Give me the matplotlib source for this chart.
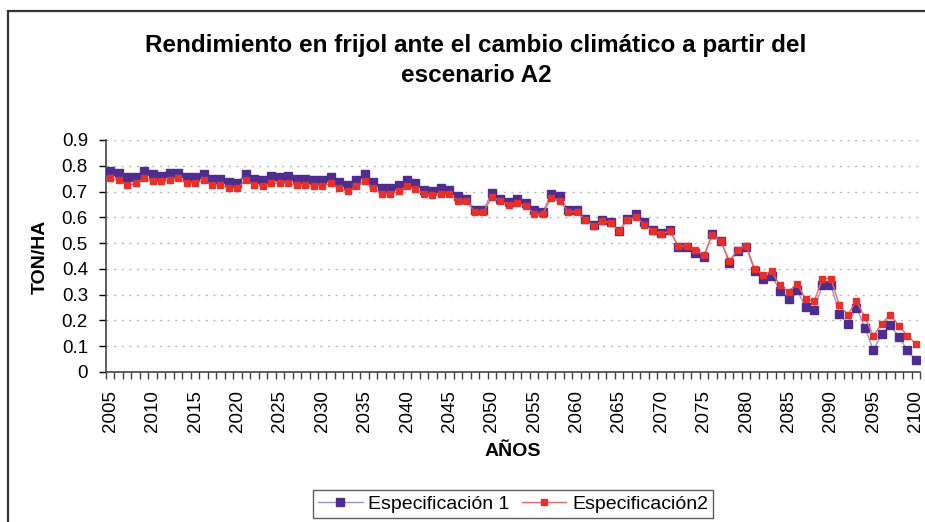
import numpy as np
import matplotlib
matplotlib.use('Agg')
import matplotlib.pyplot as plt
from matplotlib.patches import Rectangle
from matplotlib.ticker import FuncFormatter

years = list(range(2005, 2101))

especificacion_1 = [
    0.781, 0.773, 0.756, 0.756, 0.781, 0.768, 0.762, 0.773, 0.773, 0.756,
    0.756, 0.769, 0.749, 0.749, 0.737, 0.735, 0.768, 0.749, 0.745, 0.762,
    0.756, 0.762, 0.749, 0.749, 0.745, 0.745, 0.756, 0.737, 0.726, 0.745,
    0.768, 0.737, 0.714, 0.714, 0.726, 0.745, 0.733, 0.706, 0.703, 0.714,
    0.706, 0.681, 0.672, 0.630, 0.627, 0.696, 0.672, 0.661, 0.672, 0.655,
    0.627, 0.619, 0.691, 0.681, 0.629, 0.629, 0.595, 0.571, 0.590, 0.582,
    0.547, 0.595, 0.613, 0.580, 0.549, 0.538, 0.549, 0.485, 0.483, 0.461,
    0.445, 0.534, 0.510, 0.423, 0.468, 0.485, 0.392, 0.360, 0.373, 0.315,
    0.283, 0.317, 0.253, 0.240, 0.337, 0.337, 0.225, 0.187, 0.249, 0.172,
    0.085, 0.147, 0.182, 0.137, 0.085, 0.046,
]

especificacion_2 = [
    0.751, 0.744, 0.724, 0.732, 0.751, 0.740, 0.740, 0.744, 0.751, 0.732,
    0.732, 0.744, 0.724, 0.724, 0.713, 0.713, 0.744, 0.724, 0.720, 0.732,
    0.732, 0.732, 0.724, 0.724, 0.720, 0.720, 0.732, 0.713, 0.701, 0.720,
    0.740, 0.713, 0.690, 0.690, 0.701, 0.720, 0.709, 0.690, 0.686, 0.690,
    0.690, 0.663, 0.663, 0.620, 0.620, 0.678, 0.664, 0.648, 0.655, 0.645,
    0.614, 0.614, 0.676, 0.664, 0.622, 0.622, 0.590, 0.567, 0.585, 0.578,
    0.547, 0.590, 0.601, 0.571, 0.547, 0.536, 0.547, 0.490, 0.487, 0.474,
    0.454, 0.532, 0.509, 0.432, 0.474, 0.490, 0.400, 0.378, 0.390, 0.336,
    0.312, 0.343, 0.285, 0.274, 0.362, 0.362, 0.258, 0.223, 0.277, 0.212,
    0.141, 0.188, 0.223, 0.180, 0.141, 0.110,
]

y_ticks = [0, 0.1, 0.2, 0.3, 0.4, 0.5, 0.6, 0.7, 0.8, 0.9]
x_label_years = list(range(2005, 2101, 5))

plt.rcParams['font.family'] = ['Liberation Sans', 'DejaVu Sans']

fig = plt.figure(figsize=(9.25, 5.22), dpi=100)
ax = fig.add_axes([106 / 925, 1 - 372 / 522, 814 / 925, 232 / 522])

ax.plot(years, especificacion_1, color='#9f92d2', lw=1.0, marker='s',
        markersize=6, markerfacecolor='#4f2d8f', markeredgecolor='#4f2d8f',
        label='Especificación 1', zorder=3)
ax.plot(years, especificacion_2, color='#e86a6a', lw=1.0, marker='s',
        markersize=4, markerfacecolor='#e8302a', markeredgecolor='#e8302a',
        label='Especificación2', zorder=4)

ax.set_xlim(2004.5, 2100.5)
ax.set_ylim(0, 0.9)

ax.set_yticks(y_ticks)
ax.yaxis.set_major_formatter(FuncFormatter(lambda v, p: '0' if v == 0 else f'{v:.1f}'))
ax.tick_params(axis='y', direction='out', length=5, width=1, pad=8, labelsize=13.5)

ax.set_xticks(x_label_years)
ax.set_xticklabels([str(y) for y in x_label_years], rotation=90)
ax.set_xticks(np.arange(2004.5, 2101, 1), minor=True)
ax.tick_params(axis='x', which='major', length=0, pad=13, labelsize=13.5)
ax.tick_params(axis='x', which='minor', direction='out', length=5, width=1, color='#444444')

for v in y_ticks[1:]:
    ax.axhline(v, color='#b8b8b8', lw=1.0, linestyle=(0, (1.5, 4)), zorder=1)

for s in ['top', 'right']:
    ax.spines[s].set_visible(False)
for s in ['left', 'bottom']:
    ax.spines[s].set_color('#444444')
    ax.spines[s].set_linewidth(1.2)

fig.text(476 / 925, 1 - 45 / 522,
         'Rendimiento en frijol ante el cambio climático a partir del',
         ha='center', va='center', fontsize=17.5, fontweight='bold')
fig.text(476 / 925, 1 - 75 / 522, 'escenario A2',
         ha='center', va='center', fontsize=17.5, fontweight='bold')
fig.text(40 / 925, 1 - 257 / 522, 'TON/HA', rotation=90, ha='center', va='center',
         fontsize=14, fontweight='bold')
fig.text(513 / 925, 1 - 451 / 522, 'AÑOS', ha='center', va='center',
         fontsize=14, fontweight='bold')

leg = fig.legend(loc='center', bbox_to_anchor=(513 / 925, 1 - 504 / 522), ncol=2,
                 fontsize=14, frameon=True, fancybox=False, edgecolor='#333333',
                 handlelength=2.3, handletextpad=0.3, columnspacing=0.6,
                 borderpad=0.25)
leg.get_frame().set_linewidth(1.0)

fig.patches.append(Rectangle((8 / 925, -0.02), 1.05, 1 - 11 / 522 + 0.02,
                             transform=fig.transFigure, fill=False,
                             edgecolor='#333333', lw=1.6, clip_on=False))

fig.savefig('out.png', dpi=100)
